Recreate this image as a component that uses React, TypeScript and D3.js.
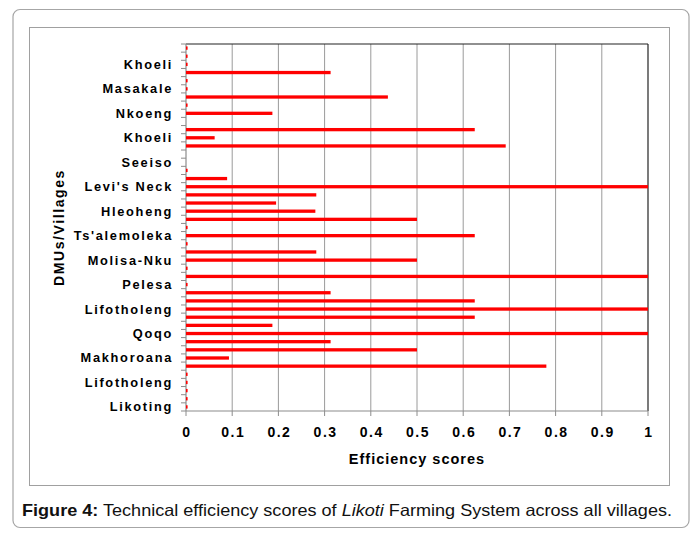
import React from "react";
import * as d3 from "d3";

// Categories listed from the bottom of the axis (first category) to the top.
// Only every third category carries a visible label in the original chart.
const categories: string[] = [
  "Likoting", "", "", "Lifotholeng", "", "", "Makhoroana", "", "", "Qoqo",
  "", "", "Lifotholeng", "", "", "Pelesa", "", "", "Molisa-Nku", "",
  "", "Ts'alemoleka", "", "", "Hleoheng", "", "", "Levi's Neck", "", "",
  "Seeiso", "", "", "Khoeli", "", "", "Nkoeng", "", "", "Masakale",
  "", "", "Khoeli", "", "",
];

const efficiency: number[] = [
  0.003, 0.003, 0.003, 0.003, 0.003, 0.78, 0.093, 0.5, 0.313, 1.0,
  0.187, 0.625, 1.0, 0.625, 0.313, 0.003, 1.0, 0.003, 0.5, 0.282,
  0.003, 0.625, 0.003, 0.5, 0.28, 0.195, 0.282, 1.0, 0.089, 0.003,
  0, 0, 0.692, 0.062, 0.625, 0, 0.187, 0.003, 0.437, 0.003,
  0.003, 0.313, 0.003, 0.003, 0.003,
];

const xTickValues: number[] = [0, 0.1, 0.2, 0.3, 0.4, 0.5, 0.6, 0.7, 0.8, 0.9, 1];
const xTickLabels: string[] = ["0", "0.1", "0.2", "0.3", "0.4", "0.5", "0.6", "0.7", "0.8", "0.9", "1"];

const xTitle = "Efficiency scores";
const yTitle = "DMUs/Villages";

export default function App() {
  const W = 695;
  const H = 539;
  const plot = { left: 186, right: 648, top: 44, bottom: 411 };
  const x = d3.scaleLinear().domain([0, 1]).range([plot.left, plot.right]);
  const idx = categories.map((_, i) => i);
  const y = d3
    .scaleBand<number>()
    .domain(idx)
    .range([plot.bottom, plot.top])
    .padding(0);
  const bw = y.bandwidth();
  const barH = 3.3;
  const font = "'Liberation Sans', Arial, sans-serif";

  const boundaries = d3.range(categories.length + 1).map(
    (k) => plot.bottom - k * bw
  );

  return (
    <svg
      width={W}
      height={H}
      style={{ position: "absolute", left: 0, top: 0, background: "#fff" }}
    >
      {/* outer frame */}
      <rect x={13} y={9.5} width={676} height={518} rx={7} fill="#fff" stroke="#a6a6a6" strokeWidth={1.2} />
      {/* chart box */}
      <rect x={29.5} y={27.5} width={640} height={458} fill="#fff" stroke="#a0a0a0" strokeWidth={1} />

      {/* gridlines */}
      {xTickValues.slice(1, -1).map((t) => (
        <line key={"g" + t} x1={x(t)} x2={x(t)} y1={plot.top} y2={plot.bottom} stroke="#9a9a9a" strokeWidth={1} />
      ))}
      {/* plot border top / right */}
      <line x1={plot.left} x2={plot.right} y1={plot.top} y2={plot.top} stroke="#222" strokeWidth={1.2} />
      <line x1={plot.right} x2={plot.right} y1={plot.top} y2={plot.bottom} stroke="#222" strokeWidth={1.2} />

      {/* y axis */}
      <line x1={plot.left} x2={plot.left} y1={plot.top} y2={plot.bottom} stroke="#8c8c8c" strokeWidth={1.2} />
      {boundaries.map((b, k) => (
        <line key={"yt" + k} x1={plot.left - 5} x2={plot.left} y1={b} y2={b} stroke="#8c8c8c" strokeWidth={1} />
      ))}

      {/* bars (drawn over the axis line, as in the original) */}
      {efficiency.map((v, i) =>
        v > 0 ? (
          <rect
            key={"b" + i}
            x={x(0)}
            y={(y(i) as number) + bw / 2 - barH / 2}
            width={Math.max(1.6, x(v) - x(0))}
            height={barH}
            fill="#ff0000"
          />
        ) : null
      )}

      {categories.map((c, i) =>
        c ? (
          <text
            key={"yl" + i}
            x={plot.left - 13}
            y={(y(i) as number) + bw / 2}
            textAnchor="end"
            dominantBaseline="central"
            fontFamily={font}
            fontWeight="bold"
            fontSize={12.8}
            letterSpacing={1.7}
            fill="#000"
          >
            {c}
          </text>
        ) : null
      )}

      {/* x axis */}
      <line x1={plot.left} x2={plot.right} y1={plot.bottom} y2={plot.bottom} stroke="#8c8c8c" strokeWidth={1.2} />
      {xTickValues.map((t, i) => (
        <g key={"xt" + t}>
          <line x1={x(t)} x2={x(t)} y1={plot.bottom} y2={plot.bottom + 5} stroke="#8c8c8c" strokeWidth={1} />
          <text
            x={x(t) + 1}
            y={437}
            textAnchor="middle"
            fontFamily={font}
            fontWeight="bold"
            fontSize={14}
            letterSpacing={1.5}
            fill="#000"
          >
            {xTickLabels[i]}
          </text>
        </g>
      ))}

      {/* axis titles */}
      <text
        x={417}
        y={464}
        textAnchor="middle"
        fontFamily={font}
        fontWeight="bold"
        fontSize={14.5}
        letterSpacing={1}
        fill="#000"
      >
        {xTitle}
      </text>
      <text
        transform={`translate(64, ${(plot.top + plot.bottom) / 2}) rotate(-90)`}
        textAnchor="middle"
        fontFamily={font}
        fontWeight="bold"
        fontSize={14}
        letterSpacing={1.6}
        fill="#000"
      >
        {yTitle}
      </text>

      {/* caption */}
      <text
        x={22}
        y={516}
        fontFamily="'Liberation Sans Narrow', 'Arial Narrow', 'Liberation Sans', Arial, sans-serif"
        fontSize={16.5}
        textLength={650}
        lengthAdjust="spacingAndGlyphs"
        fill="#111"
      >
        <tspan fontWeight="bold">Figure 4:</tspan>
        <tspan> Technical efficiency scores of </tspan>
        <tspan fontStyle="italic">Likoti</tspan>
        <tspan> Farming System across all villages.</tspan>
      </text>
    </svg>
  );
}
